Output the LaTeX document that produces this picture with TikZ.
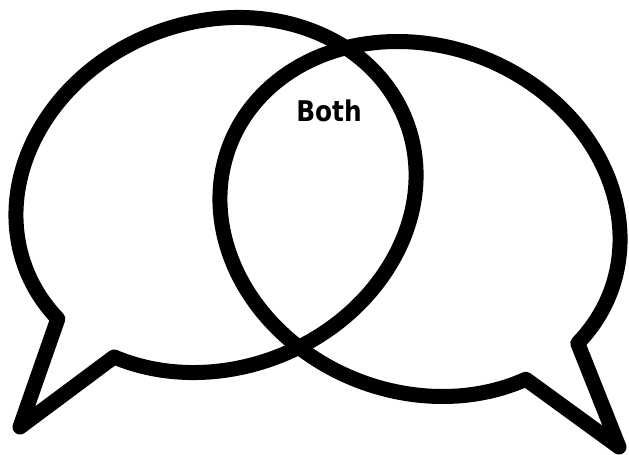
\documentclass[tikz,border=0pt]{standalone}
\usepackage{fontspec}
\newfontfamily\labelfont[FakeStretch=0.87]{DejaVu Sans}
\usetikzlibrary{positioning}
\tikzset{
  bubble/.style={draw=black, line width=15pt, line join=round, line cap=round},
  overlap/.style={font=\labelfont\bfseries\fontsize{28.5}{30}\selectfont, inner sep=0pt}
}
\begin{document}
\begin{tikzpicture}[x=1pt,y=1pt]
  \useasboundingbox (0,0) rectangle (629,455);
  % tips of the two tails
  \coordinate (ltip) at (20,28);
  \coordinate (rtip) at (619,8);

  % left bubble
  \begin{scope}[shift={(216,260)},rotate=21.6]
    \draw[bubble] (220.8:204 and 173)
      arc[start angle=220.8,end angle=559.2,x radius=204,y radius=173]
      -- (ltip) -- cycle;
  \end{scope}

  % right bubble
  \begin{scope}[shift={(420,236)},rotate=-21.6]
    \draw[bubble] (340.6:204 and 173)
      arc[start angle=340.6,end angle=680.5,x radius=204,y radius=173]
      -- (rtip) -- cycle;
  \end{scope}

  % overlap label
  \node[overlap] (both) at (329,344) {Both};
\end{tikzpicture}
\end{document}
